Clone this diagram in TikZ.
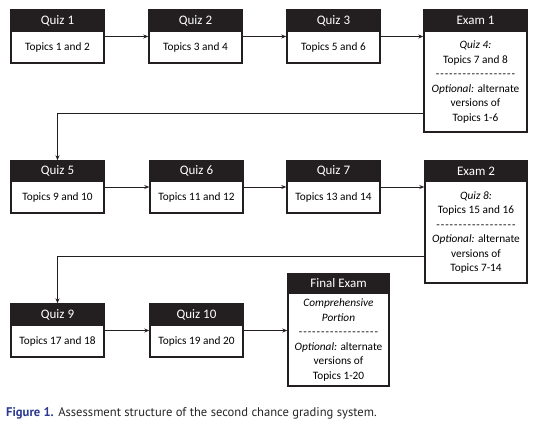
\documentclass[tikz,border=0pt]{standalone}
\usepackage{fontspec}
\setmainfont{Carlito}
\newfontfamily\capfont{PT Sans}
\usetikzlibrary{arrows.meta,positioning}
\definecolor{hdr}{HTML}{231F20}
\definecolor{capblue}{HTML}{2B3990}
\newcommand\hy{-\kern1pt}
\newcommand\dashrow{\hy\hy\hy\hy\hy\hy\hy\hy\hy\hy\hy\hy\hy\hy\hy\hy\hy-}
\tikzset{
  boxout/.style={draw=hdr, line width=1.4pt, rectangle, inner sep=0pt, fill=white},
  headbox/.style={fill=hdr, text=white, rectangle, inner sep=0pt, anchor=north, font=\fontsize{13}{15}\selectfont},
  bodytext/.style={align=center, inner sep=0pt, font=\fontsize{11.3}{14.5}\selectfont, text=black},
  conn/.style={draw=hdr, line width=1pt, -{Stealth[length=5pt,width=4pt]}},
}
% \qbox{name}{x1}{y1}{x2}{yh}{y2}{title}{body}
\newcommand\qbox[8]{%
  \pgfmathsetmacro\cx{(#2+#4)/2}%
  \pgfmathsetmacro\cy{(#3+#6)/2}%
  \pgfmathsetmacro\bw{#4-#2}%
  \pgfmathsetmacro\bh{#6-#3}%
  \pgfmathsetmacro\hh{#5-#3}%
  \pgfmathsetmacro\by{(#5+#6)/2}%
  \node[boxout, minimum width=\bw pt, minimum height=\bh pt] (#1) at (\cx,\cy) {};
  \node[headbox, minimum width=\bw pt, minimum height=\hh pt] (#1h) at (#1.north) {#7};
  \draw[draw=hdr, line width=1.4pt] (#1.north west) rectangle (#1.south east);
  \node[bodytext] (#1b) at (\cx,\by) {#8};
}
\begin{document}
\begin{tikzpicture}[x=1pt,y=-1pt]
\useasboundingbox (0,0) rectangle (540,423);
% row 1
\qbox{q1}{11}{10}{104}{32}{63}{Quiz 1}{Topics 1 and 2}
\qbox{q2}{149}{10}{242}{32}{63}{Quiz 2}{Topics 3 and 4}
\qbox{q3}{287}{10}{380}{32}{63}{Quiz 3}{Topics 5 and 6}
\qbox{e1}{424}{10}{527}{32}{132}{Exam 1}{\textit{Quiz 4:}\\Topics 7 and 8\\\dashrow\\\textit{Optional:} alternate\\versions of\\Topics 1-6}
% row 2
\qbox{q5}{11}{161}{104}{182}{213}{Quiz 5}{Topics 9 and 10}
\qbox{q6}{150}{161}{243}{182}{213}{Quiz 6}{Topics 11 and 12}
\qbox{q7}{287}{161}{380}{182}{213}{Quiz 7}{Topics 13 and 14}
\qbox{e2}{425}{161}{527}{182}{283}{Exam 2}{\textit{Quiz 8:}\\Topics 15 and 16\\\dashrow\\\textit{Optional:} alternate\\versions of\\Topics 7-14}
% row 3
\qbox{q9}{11}{304}{104}{326}{357}{Quiz 9}{Topics 17 and 18}
\qbox{q10}{150}{304}{243}{326}{357}{Quiz 10}{Topics 19 and 20}
\qbox{fe}{288}{274}{389}{294}{386}{Final Exam}{\textit{Comprehensive}\\\textit{Portion}\\\dashrow\\\textit{Optional:} alternate\\versions of\\Topics 1-20}
% connectors
\draw[conn] (q1.east) -- (q2.west);
\draw[conn] (q2.east) -- (q3.west);
\draw[conn] (q3.east) -- (q3.east -| e1.west);
\coordinate (r1) at (424,113);
\draw[conn] (e1.west |- r1) -| (q5.north);
\draw[conn] (q5.east) -- (q6.west);
\draw[conn] (q6.east) -- (q7.west);
\draw[conn] (q7.east) -- (q7.east -| e2.west);
\coordinate (r2) at (425,256);
\draw[conn] (e2.west |- r2) -| (q9.north);
\draw[conn] (q9.east) -- (q10.west);
\draw[conn] (q10.east) -- (q10.east -| fe.west);
% caption
\node[anchor=west, inner sep=0pt, font=\capfont\fontsize{12.6}{14}\selectfont, text=black!85] (cap) at (6,413) {\textcolor{capblue}{\bfseries Figure 1.} Assessment structure of the second chance grading system.};
\end{tikzpicture}
\end{document}
